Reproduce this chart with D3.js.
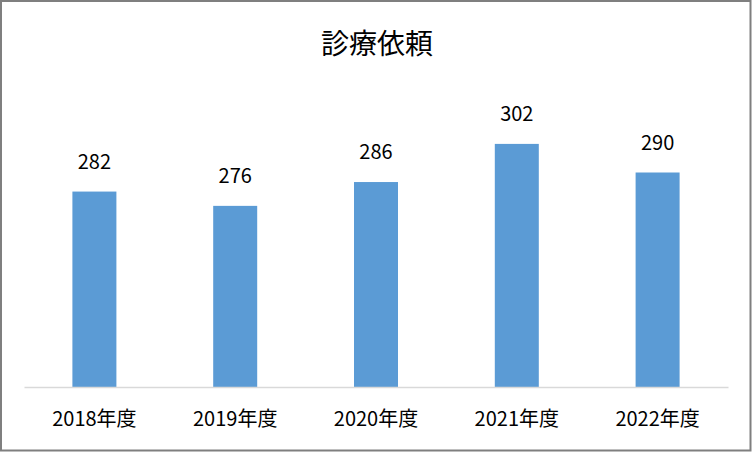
<!DOCTYPE html>
<html><head><meta charset="utf-8">
<script src="https://cdn.jsdelivr.net/npm/d3@7"></script>
<style>html,body{margin:0;padding:0;background:#fff}svg{display:block}</style>
</head><body>
<script>
const categories = ["2018年度","2019年度","2020年度","2021年度","2022年度"];
const values = [282, 276, 286, 302, 290];
const title = "診療依頼";

const W = 752, H = 452;
const m = {left:24, right:24, top:101, bottom:65};
const font = "'Noto Sans CJK JP', 'Noto Sans', sans-serif";

const svg = d3.select("body").append("svg").attr("width", W).attr("height", H);
svg.append("rect").attr("x",1).attr("y",1).attr("width",W-2.5).attr("height",H-2.5)
  .attr("fill","#fff").attr("stroke","#7f7f7f").attr("stroke-width",2);

const x = d3.scaleBand().domain(categories).range([m.left, W - m.right]).padding(0);
const y = d3.scaleLinear().domain([200, 320]).range([H - m.bottom, m.top]);
const bw = x.bandwidth() * 0.3125;

svg.append("text").attr("x", 377).attr("y", 54).attr("text-anchor","middle")
  .attr("font-family", font).attr("font-size", 28).attr("fill","#000").text(title);

svg.selectAll("rect.bar").data(values).enter().append("rect").attr("class","bar")
  .attr("x",(d,i)=>x(categories[i]) + x.bandwidth()/2 - bw/2)
  .attr("y",d=>y(d)).attr("width",bw).attr("height",d=>y(200)-y(d))
  .attr("fill","#5b9bd5");

const ax = svg.append("g").attr("transform",`translate(0,${y(200)})`)
  .call(d3.axisBottom(x).tickSize(0).tickPadding(0));
ax.select(".domain").attr("stroke","#d9d9d9").attr("stroke-width",1.5);
ax.selectAll("text").attr("font-family",font).attr("font-size",20).attr("fill","#000")
  .attr("dy",null).attr("y",38.5);

svg.selectAll("text.val").data(values).enter().append("text").attr("class","val")
  .attr("x",(d,i)=>x(categories[i]) + x.bandwidth()/2).attr("y",d=>y(d)-23)
  .attr("text-anchor","middle").attr("font-family",font).attr("font-size",20)
  .attr("fill","#000").text(d=>d);
</script>
</body></html>
